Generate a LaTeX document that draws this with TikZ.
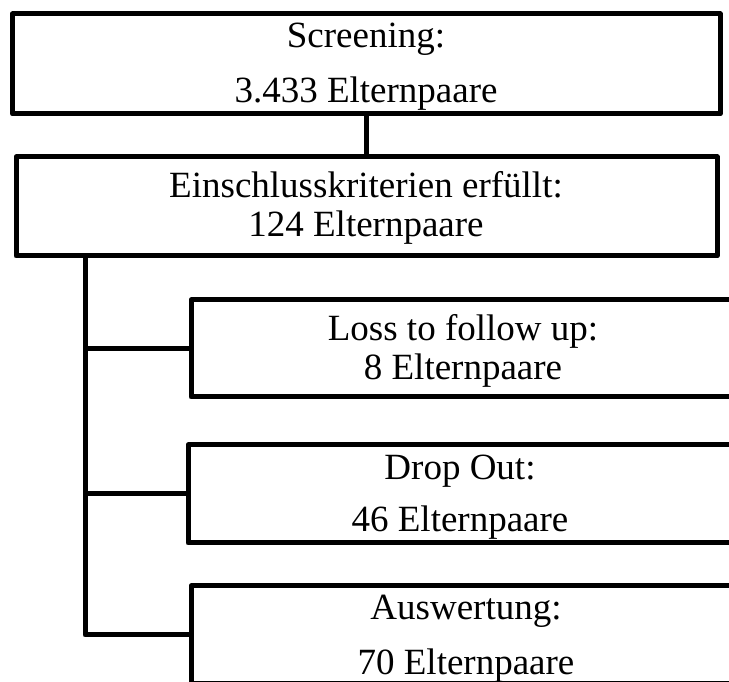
\documentclass[tikz,border=0pt]{standalone}
\usepackage{fontspec}
\setmainfont{Liberation Serif}
\begin{document}
\begin{tikzpicture}[x=1pt,y=1pt,
  box/.style={draw, line width=5pt, line join=round, inner sep=0pt},
  conn/.style={line width=5pt, line join=round},
  txt/.style={inner sep=0pt, anchor=base, font=\fontsize{37}{44}\selectfont}]
\useasboundingbox (0,0) rectangle (729,682);
\clip (0,0) rectangle (729,682);
% boxes
\node[box, minimum width=707.5pt, minimum height=100pt] (top)  at (366.25,618) {};
\node[box, minimum width=701pt,   minimum height=99pt]  (ein)  at (366.5,475.5) {};
\node[box, minimum width=544pt,   minimum height=97pt]  (loss) at (463,333.5) {};
\node[box, minimum width=544pt,   minimum height=98pt]  (drop) at (460,188) {};
\node[box, minimum width=550pt,   minimum height=98pt]  (ausw) at (466,47) {};
% texts
\node[txt] (t1a) at (366,634) {Screening:};
\node[txt] (t1b) at (366,579) {3.433 Elternpaare};
\node[txt] (t2a) at (366,484) {Einschlusskriterien erfüllt:};
\node[txt] (t2b) at (366,445) {124 Elternpaare};
\node[txt] (t3a) at (463,341) {Loss to follow up:};
\node[txt] (t3b) at (463,302) {8 Elternpaare};
\node[txt] (t4a) at (460,202) {Drop Out:};
\node[txt] (t4b) at (460,150) {46 Elternpaare};
\node[txt] (t5a) at (466,62) {Auswertung:};
\node[txt] (t5b) at (466,7) {70 Elternpaare};
% connectors
\draw[conn] (top.south) -- (top.south |- ein.north);
\coordinate (tr) at (85,426);
\draw[conn] (tr) |- (loss.west);
\draw[conn] (tr) |- (drop.west);
\draw[conn] (tr) |- (ausw.west);
\end{tikzpicture}
\end{document}
